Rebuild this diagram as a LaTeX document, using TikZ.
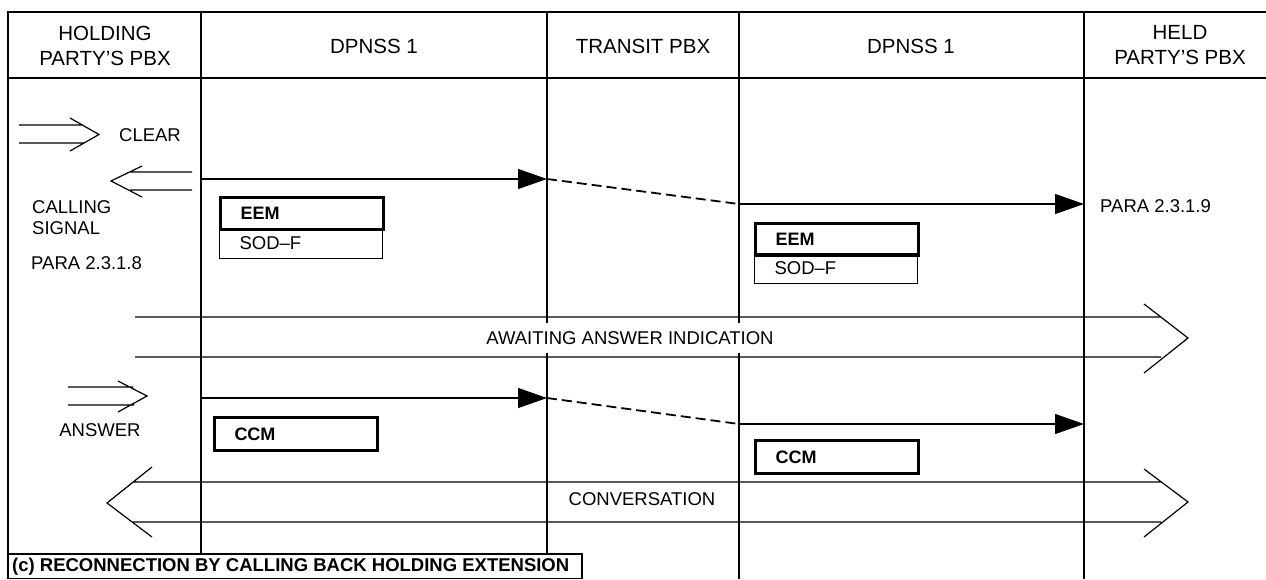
\documentclass[tikz,border=0pt]{standalone}
\usepackage{fontspec}
\setmainfont{Liberation Sans}
\usetikzlibrary{arrows.meta}
\begin{document}
\begin{tikzpicture}[x=1pt,y=-1pt,
  frame/.style={line width=1.6pt},
  msg/.style={line width=1.3pt,-{Triangle[length=29pt,width=20pt]}},
  dashmsg/.style={line width=1.8pt,dash pattern=on 10pt off 5pt},
  chev/.style={line width=1.2pt},
  lbl/.style={font=\fontsize{18.5}{21}\selectfont,inner sep=0pt},
  hdr/.style={font=\fontsize{20.5}{25}\selectfont,align=center,inner sep=0pt},
  thinbox/.style={draw,line width=1.2pt,anchor=north west,inner xsep=20pt,inner ysep=0pt,
     text width=123pt,align=left,minimum height=30pt,font=\fontsize{18.5}{21}\selectfont},
  thickbox/.style={draw,line width=3pt,anchor=north west,inner xsep=20pt,inner ysep=0pt,
     text width=123pt,align=left,minimum height=32pt,font=\bfseries\fontsize{18}{21}\selectfont}
]
\useasboundingbox (0,0) rectangle (1266,579);

% frame
\draw[frame] (1266,12) -- (8,12) -- (8,579);
\draw[frame] (8,78) -- (1266,78);
\draw[frame] (201,12) -- (201,554);
\draw[frame] (547,12) -- (547,323) (547,353) -- (547,554);
\draw[frame] (739,12) -- (739,323) (739,353) -- (739,579);
\draw[frame] (1084,12) -- (1084,579);

% headers
\node[hdr] (h1) at (105,45.5) {HOLDING\\PARTY’S PBX};
\node[hdr] (h2) at (374,46) {DPNSS 1};
\node[hdr] (h3) at (643,46) {TRANSIT PBX};
\node[hdr] (h4) at (911,46) {DPNSS 1};
\node[hdr] (h5) at (1180,45.5) {HELD\\PARTY’S PBX};

% left side signals
\draw[chev] (19,125) -- (83,125) (19,143) -- (84,143) (70,118) -- (99,134.5) -- (70,151);
\node[lbl] (clear) at (150,135) {CLEAR};
\draw[chev] (192,172) -- (130,172) (192,190) -- (130,190) (142,166) -- (111,181) -- (142,197);
\node[lbl,align=left,anchor=west] (calling) at (32,217.5) {CALLING\\SIGNAL};
\node[lbl,anchor=west] (para8) at (31,263) {PARA 2.3.1.8};
\node[lbl,anchor=west] (para9) at (1100,206) {PARA 2.3.1.9};

% message 1
\coordinate (m1a) at (201,179);
\coordinate (m1b) at (547,179);
\coordinate (m1c) at (739,204);
\coordinate (m1d) at (1084,204);
\draw[msg] (m1a) -- (m1b);
\draw[dashmsg] (m1b) -- (m1c);
\draw[msg] (m1c) -- (m1d);

% EEM boxes
\node[thinbox] (sod1) at (219,228) {SOD–F};
\node[thickbox] (eem1) at (219,196) {EEM};
\node[thinbox] (sod2) at (754,253) {SOD–F};
\node[thickbox] (eem2) at (754,222) {EEM};

% awaiting answer indication
\draw[chev] (135,317) -- (1161,317) (135,357) -- (1161,357) (1144,304) -- (1188,338) -- (1144,373);
\node[lbl] (await) at (630,338) {AWAITING ANSWER INDICATION};

% answer
\draw[chev] (68,387) -- (133,387) (68,405) -- (134,405) (118,381) -- (147,396) -- (118,412);
\node[lbl] (answer) at (100,430) {ANSWER};

% message 2
\coordinate (m2a) at (201,398);
\coordinate (m2b) at (547,398);
\coordinate (m2c) at (739,424);
\coordinate (m2d) at (1084,424);
\draw[msg] (m2a) -- (m2b);
\draw[dashmsg] (m2b) -- (m2c);
\draw[msg] (m2c) -- (m2d);

% CCM boxes
\node[thickbox,minimum height=33pt] (ccm1) at (213,416) {CCM};
\node[thickbox,minimum height=33pt] (ccm2) at (754,439) {CCM};

% conversation
\draw[chev] (133,482) -- (1161,482) (133,522) -- (1161,522)
  (152,467) -- (107,503) -- (152,537)
  (1144,469) -- (1188,502) -- (1144,537);
\node[lbl] (conv) at (642,499) {CONVERSATION};

% caption
\draw[frame] (8,554) rectangle (582,578.5);
\node[lbl,anchor=west,font=\bfseries\fontsize{18.5}{21}\selectfont] (cap) at (12,567) {(c) RECONNECTION BY CALLING BACK HOLDING EXTENSION};
\end{tikzpicture}
\end{document}
